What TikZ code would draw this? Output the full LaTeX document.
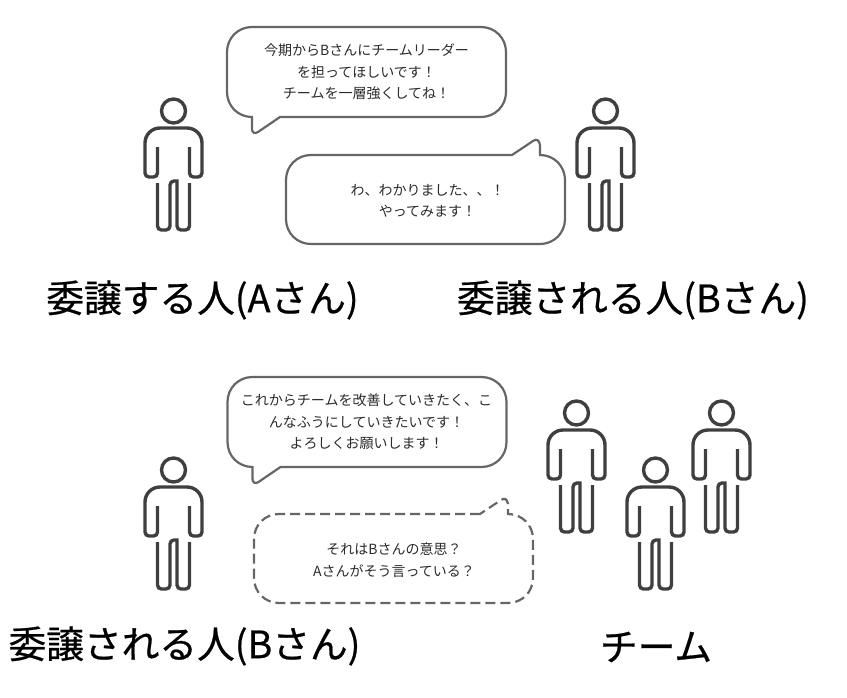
\documentclass[tikz,border=0pt]{standalone}
\usepackage{fontspec}
\setmainfont{Noto Sans CJK JP}
\newfontfamily\rolefont[FakeBold=0.6]{Noto Sans CJK JP}
\tikzset{
  bubble/.style={draw=bubblegray,line width=2.2pt},
  saytext/.style={text=saygray,align=center,font=\fontsize{14}{21.5}\selectfont},
  rolelabel/.style={text=black,font=\rolefont\fontsize{37.7}{44}\selectfont},
  personline/.style={draw=persongray,line width=3.4pt},
  person/.pic={
    \draw[personline] (0,0) circle (12);
    \draw[personline,rounded corners=4pt] (-16,36) -- (-16,66) -- (-28.5,66) [rounded corners=15pt] -- (-28.5,17) -- (28.5,17) [rounded corners=4pt] -- (28.5,66) -- (16,66) -- (16,36);
    \draw[personline,rounded corners=4pt] (-16,72) -- (-16,119) -- (-3.5,119) -- (-3.5,70) [sharp corners] -- (3.5,70) [rounded corners=4pt] -- (3.5,119) -- (16,119) -- (16,72);
  },
  tailleft/.pic={
    \draw[bubble,pic actions] (53,90) -- (254,90) .. controls (268,90) and (279,79) .. (279,65) -- (279,25) .. controls (279,11) and (268,0) .. (254,0) -- (25,0) .. controls (11,0) and (0,11) .. (0,25) -- (0,65) .. controls (0,79) and (11,90) .. (25,90) -- (25,102) .. controls (25,106) and (28,107) .. (31,105) -- cycle;
  },
  tailright/.pic={
    \draw[bubble,pic actions] (226,0) -- (25,0) .. controls (11,0) and (0,11) .. (0,25) -- (0,64) .. controls (0,78) and (11,89) .. (25,89) -- (254,89) .. controls (268,89) and (279,78) .. (279,64) -- (279,25) .. controls (279,11) and (268,0) .. (254,0) -- (254,-10) .. controls (253,-16) and (250,-16) .. (247,-14) -- cycle;
  }
}
\definecolor{bubblegray}{HTML}{666666}
\definecolor{saygray}{HTML}{2B2B2B}
\definecolor{persongray}{HTML}{3F3F3F}
\begin{document}
\begin{tikzpicture}[x=1pt,y=-1pt]
  \useasboundingbox (0,0) rectangle (847,697);
  %Obere Reihe
  \pic (personA) at (173.5,111) {person};
  \pic (personB) at (605.5,111) {person};
  \pic (bubbleA) at (227,27) {tailleft};
  \pic (bubbleB) at (286,155) {tailright};
  \node[saytext] (sayA) at (366.5,72) {今期からBさんにチームリーダー\\を担ってほしいです！\\チームを一層強くしてね！};
  \node[saytext] (sayB) at (427.5,201) {わ、わかりました、、！\\やってみます！};
  \node[rolelabel] (labelA) at (202.5,300) {委譲する人(Aさん)};
  \node[rolelabel] (labelB) at (633,300) {委譲される人(Bさん)};
  %Untere Reihe
  \pic (personC) at (173.5,470) {person};
  \pic (teamA) at (576.5,413) {person};
  \pic (teamB) at (655.5,470) {person};
  \pic (teamC) at (721.5,413) {person};
  \pic (bubbleC) at (227.5,377) {tailleft};
  \pic[dash pattern=on 10pt off 5pt] (bubbleD) at (254,514) {tailright};
  \node[saytext] (sayC) at (366.5,422) {これからチームを改善していきたく、こ\\んなふうにしていきたいです！\\よろしくお願いします！};
  \node[saytext] (sayD) at (394,560) {それはBさんの意思？\\Aさんがそう言っている？};
  \node[rolelabel] (labelC) at (184.5,646) {委譲される人(Bさん)};
  \node[rolelabel] (labelT) at (656,647) {チーム};
\end{tikzpicture}
\end{document}
